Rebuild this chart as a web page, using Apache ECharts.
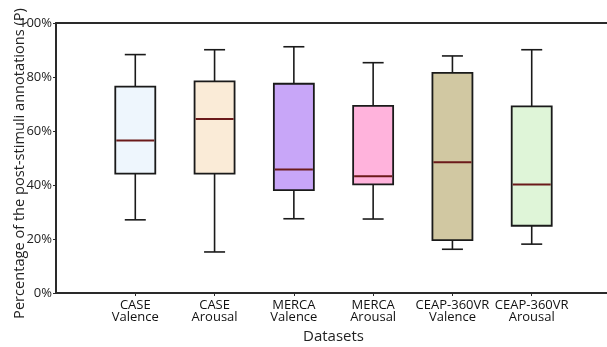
<!DOCTYPE html>
<html>
<head>
<meta charset="utf-8">
<script src="https://cdn.jsdelivr.net/npm/echarts@6/dist/echarts.min.js"></script>
<style>html,body{margin:0;padding:0;background:#fff}#c{width:607px;height:347px}</style>
</head>
<body>
<div id="c"></div>
<script>
const categories = ['', 'CASE\nValence', 'CASE\nArousal', 'MERCA\nValence', 'MERCA\nArousal', 'CEAP-360VR\nValence', 'CEAP-360VR\nArousal', ''];
const mins    = [27.1, 15.2, 27.5, 27.4, 16.2, 18.1];
const q1s     = [44.2, 44.2, 38.1, 40.2, 19.6, 24.9];
const medians = [56.5, 64.4, 45.7, 43.2, 48.4, 40.2];
const q3s     = [76.4, 78.4, 77.5, 69.3, 81.5, 69.1];
const maxs    = [88.3, 90.1, 91.2, 85.3, 87.8, 90.1];
const yTicks  = [0, 20, 40, 60, 80, 100];
const fills   = ['#eef6fd', '#faebd7', '#c8a6f8', '#ffb3dc', '#d1c8a2', '#dff5d8'];

const data = mins.map((m, i) => [i + 1, m, q1s[i], medians[i], q3s[i], maxs[i]]);
const FONT = 'Open Sans';

const chart = echarts.init(document.getElementById('c'));
chart.setOption({
  animation: false,
  grid: { left: 56, right: -4, top: 23, bottom: 54, outerBoundsMode: 'none', containLabel: false },
  xAxis: [{
    type: 'category', data: categories, boundaryGap: false,
    name: 'Datasets', nameLocation: 'middle', nameGap: 36, nameMoveOverlap: false,
    nameTextStyle: { fontFamily: FONT, fontSize: 15, color: '#222' },
    axisLine: { lineStyle: { color: '#2a2a2a', width: 2 } },
    axisTick: { show: true, length: 3, interval: (i) => i > 0 && i < 7, lineStyle: { color: '#2a2a2a', width: 1 } },
    axisLabel: { interval: 0, fontFamily: FONT, fontSize: 13, color: '#111', lineHeight: 12, margin: 6 },
    splitLine: { show: false }
  }, {
    type: 'category', data: categories, boundaryGap: false, position: 'top',
    axisLine: { lineStyle: { color: '#2a2a2a', width: 2 } },
    axisTick: { show: false }, axisLabel: { show: false }, splitLine: { show: false }
  }],
  yAxis: {
    type: 'value', min: 0, max: 100, interval: 20,
    name: 'Percentage of the post-stimuli annotations (P)', nameLocation: 'middle', nameGap: 29, nameMoveOverlap: false,
    nameTextStyle: { fontFamily: FONT, fontSize: 14.6, color: '#222', padding: [0, 11, 0, 0] },
    axisLine: { show: true, lineStyle: { color: '#2a2a2a', width: 2 } },
    axisTick: { show: true, length: 3, lineStyle: { color: '#2a2a2a' } },
    axisLabel: { fontFamily: FONT, fontSize: 13, color: '#222', margin: 4,
      formatter: (v) => (yTicks.indexOf(v) >= 0 ? v + '%' : '') },
    splitLine: { show: false }
  },
  series: [{
    type: 'custom',
    data: data,
    renderItem: function (params, api) {
      const x = api.value(0);
      const pMin = api.coord([x, api.value(1)]);
      const pQ1 = api.coord([x, api.value(2)]);
      const pMed = api.coord([x, api.value(3)]);
      const pQ3 = api.coord([x, api.value(4)]);
      const pMax = api.coord([x, api.value(5)]);
      const cx = pMin[0];
      const hw = 20, cw = 10.5;
      const stroke = { stroke: '#1a1a1a', lineWidth: 1.6 };
      return {
        type: 'group',
        children: [
          { type: 'line', shape: { x1: cx, y1: pMax[1], x2: cx, y2: pQ3[1] }, style: stroke },
          { type: 'line', shape: { x1: cx, y1: pQ1[1], x2: cx, y2: pMin[1] }, style: stroke },
          { type: 'line', shape: { x1: cx - cw, y1: pMax[1], x2: cx + cw, y2: pMax[1] }, style: stroke },
          { type: 'line', shape: { x1: cx - cw, y1: pMin[1], x2: cx + cw, y2: pMin[1] }, style: stroke },
          { type: 'rect', shape: { x: cx - hw, y: pQ3[1], width: 2 * hw, height: pQ1[1] - pQ3[1] },
            style: { fill: fills[params.dataIndex], stroke: '#1a1a1a', lineWidth: 1.8 } },
          { type: 'line', shape: { x1: cx - hw + 1, y1: pMed[1], x2: cx + hw - 1, y2: pMed[1] },
            style: { stroke: '#6b1a1a', lineWidth: 2 } }
        ]
      };
    }
  }]
});
</script>
</body>
</html>
